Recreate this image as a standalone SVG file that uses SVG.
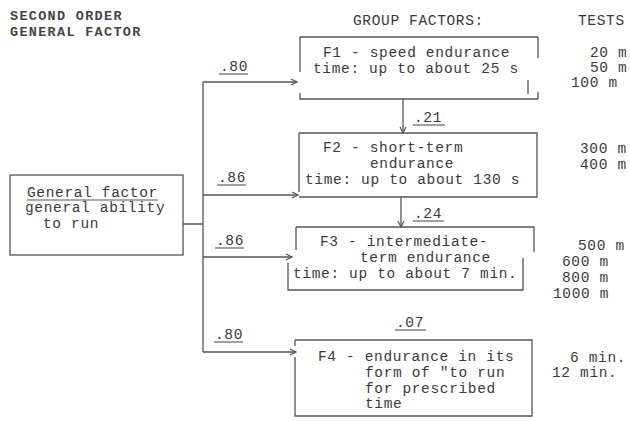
<svg xmlns="http://www.w3.org/2000/svg" width="630" height="421" viewBox="0 0 630 421">
<style>
text{font-family:"Liberation Mono","DejaVu Sans Mono",monospace;font-size:14.5px;letter-spacing:0.65px;fill:#3a3a3a}
.hd{font-weight:bold;font-size:13.5px;letter-spacing:1.3px;fill:#444}
.ln{stroke:#555;stroke-width:1.3;fill:none}
.ul{stroke:#555;stroke-width:1.1}
</style>
<defs>
<marker id="ah" markerUnits="userSpaceOnUse" markerWidth="10" markerHeight="10" refX="7" refY="4" orient="auto">
<path d="M1,1 L7,4 L1,7" fill="none" stroke="#555" stroke-width="1.2"/>
</marker>
</defs>
<rect width="630" height="421" fill="#fff"/>
<g id="headings">
<text class="hd" x="10" y="20">SECOND ORDER</text>
<text class="hd" x="10" y="36">GENERAL FACTOR</text>
<text x="353" y="25">GROUP FACTORS:</text>
<text x="578" y="25">TESTS</text>
</g>
<g id="connectors">
<path class="ln" d="M183,224 H203 M203,82 V352"/>
<path class="ln" d="M203,82 H297" marker-end="url(#ah)"/>
<path class="ln" d="M203,195 H298" marker-end="url(#ah)"/>
<path class="ln" d="M203,257 H292" marker-end="url(#ah)"/>
<path class="ln" d="M203,352 H296" marker-end="url(#ah)"/>
<path class="ln" d="M403,99 V133" marker-end="url(#ah)"/>
<path class="ln" d="M401,197 V227" marker-end="url(#ah)"/>
<text x="220" y="71">.80</text><line class="ul" x1="219" y1="74" x2="248" y2="74"/>
<text x="218" y="182">.86</text><line class="ul" x1="217" y1="185" x2="246" y2="185"/>
<text x="216" y="245">.86</text><line class="ul" x1="215" y1="248" x2="244" y2="248"/>
<text x="215" y="339">.80</text><line class="ul" x1="214" y1="342" x2="243" y2="342"/>
<text x="414" y="122">.21</text><line class="ul" x1="413" y1="125" x2="445" y2="125"/>
<text x="414" y="218">.24</text><line class="ul" x1="413" y1="221" x2="444" y2="221"/>
<text x="396" y="327">.07</text><line class="ul" x1="395" y1="330" x2="426" y2="330"/>
</g>
<g id="general">
<rect class="ln" x="10" y="175" width="173" height="80"/>
<text x="27" y="197">General factor</text><line class="ul" x1="27" y1="200" x2="158" y2="200"/>
<text x="25" y="212">general ability</text>
<text x="43" y="228">to run</text>
</g>
<g id="f1">
<path class="ln" d="M300,37 H538 M300,37 V72 M300,93 V99 H538 M538,37 V58 M538,92 V99 M528,80 V94"/>
<text x="323" y="57">F1 - speed endurance</text>
<text x="313" y="73">time: up to about 25 s</text>
</g>
<g id="f2">
<path class="ln" d="M299,133 H537 V197 H299 M299,133 V192"/>
<text x="323" y="152">F2 - short-term</text>
<text x="370" y="168">endurance</text>
<text x="305" y="184">time: up to about 130 s</text>
</g>
<g id="f3">
<path class="ln" d="M296,227 H534 V252 M296,227 V250 M288,263 V290 H523 V258"/>
<text x="320" y="246">F3 - intermediate-</text>
<text x="360" y="262">term endurance</text>
<text x="293" y="278">time: up to about 7 min.</text>
</g>
<g id="f4">
<path class="ln" d="M295,340 H532 V416 H295 V357 M295,340 V346"/>
<text x="318" y="361">F4 - endurance in its</text>
<text x="365" y="377">form of "to run</text>
<text x="365" y="393">for prescribed</text>
<text x="365" y="408">time</text>
</g>
<g id="tests">
<text x="590" y="57">20 m</text>
<text x="590" y="72">50 m</text>
<text x="571" y="87">100 m</text>
<text x="580" y="153">300 m</text>
<text x="580" y="169">400 m</text>
<text x="578" y="250">500 m</text>
<text x="562" y="266">600 m</text>
<text x="562" y="282">800 m</text>
<text x="553" y="298">1000 m</text>
<text x="570" y="362">6 min.</text>
<text x="552" y="377">12 min.</text>
</g>
</svg>
